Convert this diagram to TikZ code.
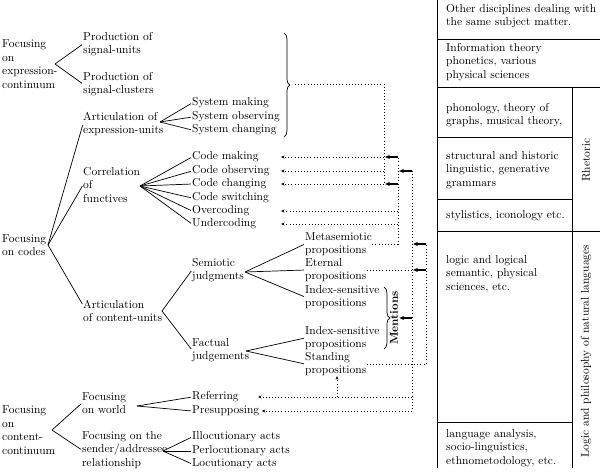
\documentclass[tikz,border=0pt]{standalone}
\usepackage{tikz}
\usetikzlibrary{positioning,arrows.meta,calc,decorations.pathreplacing}

\begin{document}
\begin{tikzpicture}[x=0.03cm,y=-0.03cm,font=\fontsize{9.8}{11.5}\selectfont,>=Stealth,
  tx/.style={anchor=west,align=left,inner sep=0pt},
  br/.style={line width=0.6pt,shorten >=1pt},
  brc/.style={line width=0.6pt,decorate,decoration={brace,amplitude=5pt}},
  dn/.style={dotted,line width=0.7pt},
  dl/.style={->,dotted,line width=0.7pt,>={Stealth[length=3pt,width=2.6pt]}},
  sa/.style={->,line width=1pt,>={Stealth[length=4pt,width=3.6pt]}},
  tb/.style={line width=0.5pt}]
  \useasboundingbox (0,0) rectangle (600,472);
  % expression-continuum
  \node[tx] (expr) at (2,64) {Focusing\\on\\expression-\\continuum};
  \node[tx] (psu) at (83,44) {Production of\\signal-units};
  \node[tx] (psc) at (83,84) {Production of\\signal-clusters};
  \coordinate (expr-b) at (55,64);
  \draw[br] (expr-b)--(psu.west); \draw[br] (expr-b)--(psc.west);
  % codes
  \node[tx] (codes) at (2,245) {Focusing\\on codes};
  \node[tx] (aeu) at (83,124) {Articulation of\\expression-units};
  \node[tx] (cof) at (83,185) {Correlation\\of\\functives};
  \node[tx] (acu) at (83,311) {Articulation\\of content-units};
  \coordinate (codes-b) at (48,245);
  \draw[br] (codes-b)--(aeu.west); \draw[br] (codes-b)--(cof.west); \draw[br] (codes-b)--([yshift=5pt]acu.west);
  \node[tx] (sysm) at (192,103) {System making};
  \node[tx] (syso) at (192,117) {System observing};
  \node[tx] (sysc) at (192,130) {System changing};
  \coordinate (aeu-b) at (160,122);
  \draw[br] (aeu-b)--(sysm.west); \draw[br] (aeu-b)--(syso.west); \draw[br] (aeu-b)--(sysc.west);
  \node[tx] (cmk) at (192,157) {Code making};
  \node[tx] (cobs) at (192,171) {Code observing};
  \node[tx] (cchg) at (192,184) {Code changing};
  \node[tx] (cswt) at (192,198) {Code switching};
  \node[tx] (ovc) at (192,211) {Overcoding};
  \node[tx] (unc) at (192,224) {Undercoding};
  \coordinate (cof-b) at (140,186);
  \draw[br] (cof-b)--(cmk.west); \draw[br] (cof-b)--(cobs.west); \draw[br] (cof-b)--(cchg.west);
  \draw[br] (cof-b)--(cswt.west); \draw[br] (cof-b)--(ovc.west); \draw[br] (cof-b)--(unc.west);
  \node[tx] (sj) at (192,270) {Semiotic\\judgments};
  \node[tx] (fj) at (192,350) {Factual\\judgements};
  \coordinate (acu-b) at (162,311);
  \draw[br] (acu-b)--(sj.west); \draw[br] (acu-b)--(fj.west);
  \node[tx] (meta) at (305,244) {Metasemiotic\\propositions};
  \node[tx] (etern) at (305,270) {Eternal\\propositions};
  \node[tx] (idxa) at (305,297) {Index-sensitive\\propositions};
  \coordinate (sj-b) at (245,272);
  \draw[br] (sj-b)--(meta.west); \draw[br] (sj-b)--(etern.west); \draw[br] (sj-b)--(idxa.west);
  \node[tx] (idxb) at (305,338) {Index-sensitive\\propositions};
  \node[tx] (stand) at (305,364) {Standing\\propositions};
  \coordinate (fj-b) at (246,351);
  \draw[br] (fj-b)--(idxb.west); \draw[br] (fj-b)--(stand.west);
  % content-continuum
  \node[tx] (cont) at (2,430) {Focusing\\on\\content-\\continuum};
  \node[tx] (fw) at (82,403) {Focusing\\on world};
  \node[tx] (fsa) at (82,450) {Focusing on the\\sender/addressee\\relationship};
  \coordinate (cont-b) at (52,430);
  \draw[br] (cont-b)--(fw.west); \draw[br] (cont-b)--(fsa.west);
  \node[tx] (refr) at (192,397) {Referring};
  \node[tx] (presp) at (192,411) {Presupposing};
  \coordinate (fw-b) at (137,406);
  \draw[br] (fw-b)--(refr.west); \draw[br] (fw-b)--(presp.west);
  \node[tx] (illo) at (192,437) {Illocutionary acts};
  \node[tx] (perl) at (192,451) {Perlocutionary acts};
  \node[tx] (locu) at (192,464) {Locutionary acts};
  \coordinate (fsa-b) at (163,451);
  \draw[br] (fsa-b)--(illo.west); \draw[br] (fsa-b)--(perl.west); \draw[br] (fsa-b)--(locu.west);
  % braces
  \draw[brc] (284,33)--(284,137);
  \coordinate (brtip) at (295,84);
  \draw[brc] (384,287)--(384,349);
  \node[rotate=90,inner sep=0pt,font=\fontsize{9.8}{11.5}\selectfont\bfseries] (ment) at (394,318) {Mentions};
  % dotted links
  \coordinate (ax) at (281,0); \coordinate (rx) at (258,0); \coordinate (sx) at (337,0);
  \coordinate (va) at (384,0); \coordinate (vb) at (398,0);
  \coordinate (vc) at (412,0); \coordinate (vd) at (426,0);
  \draw[dn] (brtip)--(brtip -| va)--(cchg -| va);
  \draw[dl] (cmk -| va)--(cmk -| ax); \draw[dl] (cobs -| va)--(cobs -| ax); \draw[dl] (cchg -| va)--(cchg -| ax);
  \draw[dn] (meta.east)--(meta -| vb)--(cmk -| vb);
  \draw[sa] (cmk -| vb)--([xshift=1pt]cmk -| va); \draw[sa] (cchg -| vb)--([xshift=1pt]cchg -| va);
  \draw[dl] (ovc -| vb)--(ovc -| ax); \draw[dl] (unc -| vb)--(unc -| ax);
  \draw[dn] (etern.east)--(etern -| vc); \draw[dn] (cobs -| vc)--(presp -| vc);
  \draw[sa] (cobs -| vc)--([xshift=1pt]cobs -| vb);
  \draw[sa] (ment -| vc)--([xshift=1pt]ment.south);
  \draw[dl] (refr -| vc)--(refr -| rx); \draw[dl] (presp -| vc)--([xshift=2pt]presp.east);
  \draw[dl] (refr -| sx)--(stand.south -| sx);
  \draw[dn] (stand.east)--(stand -| vd)--(meta -| vd);
  \draw[sa] (meta -| vd)--([xshift=1pt]meta -| vc); \draw[sa] (etern -| vd)--([xshift=1pt]etern -| vc);
  % table of other disciplines
  \draw[tb] (437,0)--(437,468);
  \draw[tb] (572,87)--(572,468);
  \draw[tb] (437,39)--(600,39); \draw[tb] (437,87)--(600,87);
  \draw[tb] (437,137)--(572,137); \draw[tb] (437,199)--(572,199);
  \draw[tb] (437,231)--(600,231); \draw[tb] (437,422)--(572,422);
  \node[tx] (hdr) at (446,16) {Other disciplines dealing with\\the same subject matter.};
  \node[tx] (info) at (446,62) {Information theory\\phonetics, various\\physical sciences};
  \node[tx] (phon) at (446,115) {phonology, theory of\\graphs, musical theory,};
  \node[tx] (struc) at (446,170) {structural and historic\\linguistic, generative\\grammars};
  \node[tx] (styl) at (446,216) {stylistics, iconology etc.};
  \node[tx] (logic) at (446,274) {logic and logical\\semantic, physical\\sciences, etc.};
  \node[tx] (lang) at (446,448) {language analysis,\\socio-linguistics,\\ethnometodology, etc.};
  \node[rotate=90,inner sep=0pt] (rhet) at (586,160) {Rhetoric};
  \node[rotate=90,inner sep=0pt] (logph) at (586,351) {Logic and philosophy of natural languages};
\end{tikzpicture}
\end{document}
